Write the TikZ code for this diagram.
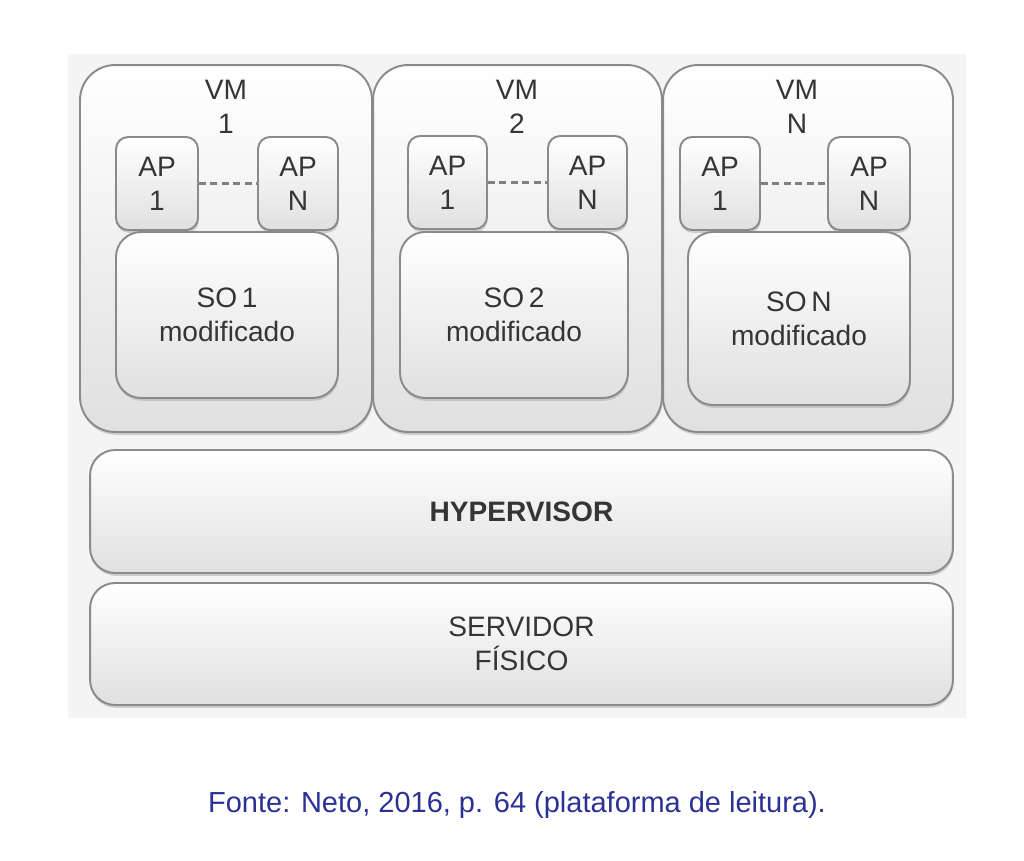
\documentclass[tikz,border=0pt]{standalone}
\usepackage{fontspec}
\setmainfont{Liberation Sans}
\usepackage{tikz}
\usetikzlibrary{shadows}
\definecolor{boxline}{HTML}{8A8A8A}
\definecolor{boxlow}{HTML}{E0E0E0}
\definecolor{panel}{HTML}{F4F4F4}
\definecolor{txt}{HTML}{353535}
\definecolor{fonte}{HTML}{2B3194}
\tikzset{
  layer/.style={draw=boxline, line width=1.1pt, top color=white, bottom color=boxlow,
    drop shadow={shadow xshift=0.4pt, shadow yshift=-1.6pt, fill=black!35},
    text=txt, align=center, font=\fontsize{16}{19.5}\selectfont, inner sep=0pt},
  vmbox/.style={layer, rounded corners=0.7cm, minimum height=7.34cm},
  apbox/.style={layer, rounded corners=0.24cm, minimum height=1.86cm},
  sobox/.style={layer, rounded corners=0.5cm, minimum height=3.32cm},
  base/.style={layer, rounded corners=0.5cm, minimum width=17.26cm},
  lbl/.style={text=txt, align=center, font=\fontsize{16}{19.5}\selectfont},
  elo/.style={draw=black!50, line width=1.2pt, dash pattern=on 4pt off 2.5pt}
}
\begin{document}
\begin{tikzpicture}[x=0.02cm, y=-0.02cm]
	\useasboundingbox (0,0) rectangle (1024,860);
	\fill[panel] (68,54) rectangle (966,718);
	% maquinas virtuais
	\node[vmbox, minimum width=5.84cm] (vm1) at (226,248.5) {};
	\node[vmbox, minimum width=5.78cm] (vm2) at (517.5,248.5) {};
	\node[vmbox, minimum width=5.8cm] (vmn) at (808,248.5) {};
	\node[lbl] (l1) at (226,107) {VM\\1};
	\node[lbl] (l2) at (517,107) {VM\\2};
	\node[lbl] (ln) at (797,107) {VM\\N};
	% aplicacoes
	\node[apbox, minimum width=1.64cm] (a11) at (157,183.5) {AP\\1};
	\node[apbox, minimum width=1.6cm] (a1n) at (298,183.5) {AP\\N};
	\node[apbox, minimum width=1.58cm] (a21) at (447.5,182.5) {AP\\1};
	\node[apbox, minimum width=1.58cm] (a2n) at (587.5,182.5) {AP\\N};
	\node[apbox, minimum width=1.6cm] (an1) at (720,183.5) {AP\\1};
	\node[apbox, minimum width=1.64cm] (ann) at (869,183.5) {AP\\N};
	\draw[elo] (a11) -- (a1n);
	\draw[elo] (a21) -- (a2n);
	\draw[elo] (an1) -- (ann);
	% sistemas operacionais
	\node[sobox, minimum width=4.44cm] (so1) at (227,315) {SO\,1\\modificado};
	\node[sobox, minimum width=4.56cm] (so2) at (514,315) {SO\,2\\modificado};
	\node[sobox, minimum width=4.44cm, minimum height=3.46cm] (son) at (799,318.5) {SO\,N\\modificado};
	% camadas de baixo
	\node[base, minimum height=2.46cm] (hyp) at (521.5,511.5) {\textbf{HYPERVISOR}};
	\node[base, minimum height=2.44cm] (srv) at (521.5,644) {SERVIDOR\\FÍSICO};
	\node[text=fonte, font=\fontsize{16.5}{20}\selectfont] (fonte) at (517,805) {Fonte: Neto, 2016, p. 64 (plataforma de leitura).};
\end{tikzpicture}
\end{document}
